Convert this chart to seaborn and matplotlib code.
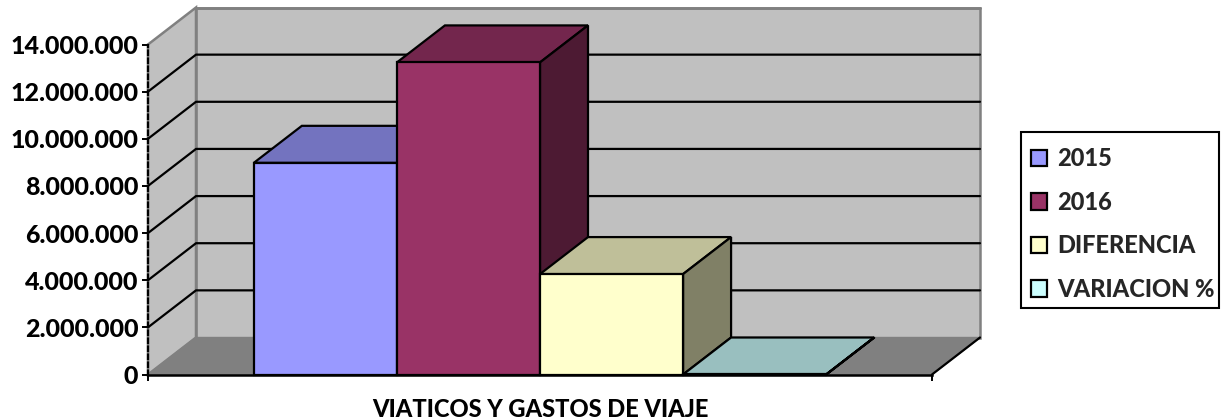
import pandas as pd
import matplotlib.pyplot as plt
import seaborn as sns
from matplotlib.patches import Rectangle

# Data
categoria = "VIATICOS Y GASTOS DE VIAJE"
series = ["2015", "2016", "DIFERENCIA", "VARIACION %"]
valores = [8980000, 13240000, 4260000, 0.47]
colores = ["#9999FF", "#993366", "#FFFFCC", "#CCFFFF"]
y_ticks = [0, 2000000, 4000000, 6000000, 8000000, 10000000, 12000000, 14000000]

df = pd.DataFrame({"categoria": [categoria] * 4, "serie": series, "valor": valores})

W, H = 1225, 420
FS_Y = 18
FS = 17
PESO = 900

sns.set_style("white")
plt.rcParams["font.family"] = ["Lato", "DejaVu Sans"]

fig = plt.figure(figsize=(W / 100, H / 100), dpi=100)
ax = fig.add_axes([148 / W, 1 - 374.5 / H, 784 / W, 330 / H])
ax.patch.set_alpha(0)

sns.barplot(data=df, x="categoria", y="valor", hue="serie", hue_order=series,
            palette=colores, saturation=1, width=0.73, ax=ax,
            edgecolor="black", linewidth=1.6)
ax.set_xlim(-0.5, 0.5)
ax.set_ylim(0, 14000000)

# depth of the 3D box, in data units
dx = 48 / 784
dy = 37 / 330 * 14000000


def shade(color, f):
    r, g, b = plt.matplotlib.colors.to_rgb(color)
    return (r * f, g * f, b * f)


# walls and floor
x0, x1 = -0.5, 0.5
top = 14000000
ax.fill([x0 + dx, x1 + dx, x1 + dx, x0 + dx], [dy, dy, top + dy, top + dy],
        facecolor="#C0C0C0", edgecolor="#808080", lw=1.8, clip_on=False, zorder=0.1)
ax.fill([x0, x0 + dx, x0 + dx, x0], [0, dy, top + dy, top],
        facecolor="#C0C0C0", edgecolor="#808080", lw=1.8, clip_on=False, zorder=0.1)
ax.fill([x0, x1, x1 + dx, x0 + dx], [0, 0, dy, dy],
        facecolor="#808080", edgecolor="#808080", lw=1, clip_on=False, zorder=0.15)
ax.plot([x1, x1 + dx], [0, dy], color="black", lw=1.6, clip_on=False, zorder=0.2)
for v in y_ticks[1:-1]:
    ax.plot([x0, x0 + dx, x1 + dx], [v, v + dy, v + dy], color="black", lw=1.6,
            clip_on=False, zorder=0.2)
ax.plot([x0 + dx, x1 + dx], [top + dy, top + dy], color="#808080", lw=2,
        clip_on=False, zorder=0.2)

# bars with their top and side faces, painted left to right
bars = [cont[0] for cont in ax.containers]
for i, b in enumerate(bars):
    bx0, bx1 = b.get_x(), b.get_x() + b.get_width()
    h = b.get_height()
    c = colores[i]
    z = 1 + i
    b.set_zorder(z + 0.2)
    b.set_clip_on(False)
    ax.fill([bx0, bx1, bx1 + dx, bx0 + dx], [h, h, h + dy, h + dy], facecolor=shade(c, 0.75),
            edgecolor="black", lw=1.6, clip_on=False, zorder=z)
    ax.fill([bx1, bx1 + dx, bx1 + dx, bx1], [0, dy, h + dy, h], facecolor=shade(c, 0.5),
            edgecolor="black", lw=1.6, clip_on=False, zorder=z)

# axes
for s in ["top", "right"]:
    ax.spines[s].set_visible(False)
ax.spines["left"].set_linestyle((0, (2, 1.6)))
ax.spines["left"].set_linewidth(1.6)
ax.spines["left"].set_color("black")
ax.spines["bottom"].set_linewidth(1.8)
ax.spines["bottom"].set_color("black")
ax.spines["bottom"].set_zorder(10)
ax.set_yticks(y_ticks)
ax.set_yticklabels([f"{v:,}".replace(",", ".") for v in y_ticks], fontsize=FS_Y, fontweight=PESO, color="black")
ax.set_xticks([x0, x1])
ax.set_xticklabels(["", ""])
ax.tick_params(axis="both", direction="out", length=4, width=1.4, color="black", left=True, bottom=True, pad=3)
ax.set_xlabel(categoria, fontsize=FS, fontweight=PESO, color="black", labelpad=10.2)
ax.set_ylabel("")

# legend box drawn apart, the text is narrower than what matplotlib reserves for it
ax.add_patch(Rectangle((1021 / W, 1 - 308 / H), 198 / W, 176 / H, transform=fig.transFigure,
                       facecolor="white", edgecolor="black", lw=1.5, clip_on=False, zorder=15))
handles, labels = ax.get_legend_handles_labels()
leg = ax.legend(handles, labels, loc="center left", bbox_to_anchor=(1031 / W, 1 - 224 / H),
                bbox_transform=fig.transFigure, frameon=False,
                prop={"family": "Lato", "weight": PESO, "size": FS},
                handlelength=0.68, handleheight=0.68, handletextpad=0.42, labelspacing=0.87,
                borderpad=0, borderaxespad=0)
leg.set_zorder(20)

fig.savefig("out.png", dpi=100)
